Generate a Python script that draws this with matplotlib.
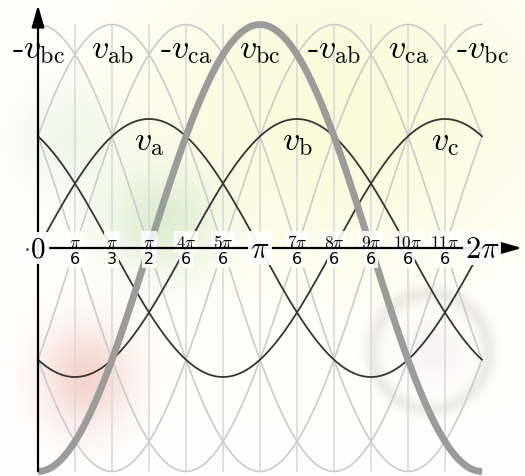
import numpy as np
import matplotlib
matplotlib.use('Agg')
import matplotlib.pyplot as plt

plt.rcParams['mathtext.fontset'] = 'cm'

# 相电压相位 (标幺值, 幅值为1)
PHASES = ['a', 'b', 'c']
PHASE_SHIFT = [0.0, -2 * np.pi / 3, 2 * np.pi / 3]

# 顶部线电压标签, 每隔 pi/3 一个
TOP_LABELS = [r'$\text{-}v_{\mathrm{bc}}$', r'$v_{\mathrm{ab}}$', r'$\text{-}v_{\mathrm{ca}}$',
              r'$v_{\mathrm{bc}}$', r'$\text{-}v_{\mathrm{ab}}$', r'$v_{\mathrm{ca}}$',
              r'$\text{-}v_{\mathrm{bc}}$']

# 横轴刻度 (k*pi/6, 分子/分母)
TICK_K = [1, 2, 3, 4, 5, 7, 8, 9, 10, 11]
TICK_NUM = [r'$\pi$', r'$\pi$', r'$\pi$', r'$4\pi$', r'$5\pi$',
            r'$7\pi$', r'$8\pi$', r'$9\pi$', r'$10\pi$', r'$11\pi$']
TICK_DEN = ['6', '3', '2', '6', '6', '6', '6', '6', '6', '6']

# 画布尺寸与坐标映射
W, H = 525, 477
X0_PX, PX_PER_RAD = 38, 70.66
Y0_PX, PX_PER_UNIT = 249, 129


def background():
    """淡色水印背景"""
    xx, yy = np.meshgrid(np.arange(W), np.arange(H))
    img = np.ones((H, W, 3))

    def tint(mask, rgb, s):
        m = (s * mask)[..., None]
        return img * (1 - m) + np.array(rgb) / 255.0 * m

    def blob(cx, cy, sx, sy):
        return np.exp(-((xx - cx) ** 2 / (2 * sx ** 2) + (yy - cy) ** 2 / (2 * sy ** 2)))

    img = tint(blob(340, 110, 160, 120), (250, 248, 200), 0.7)
    img = tint(blob(160, 220, 38, 35), (210, 232, 200), 0.75)
    img = tint(blob(70, 140, 35, 35), (225, 238, 220), 0.5)
    img = tint(blob(85, 378, 32, 36), (240, 198, 188), 0.75)
    r = np.hypot(xx - 430, yy - 352)
    img = tint(np.exp(-(r - 58) ** 2 / (2 * 6 ** 2)), (210, 210, 200), 0.4)
    img = tint(blob(430, 352, 22, 22), (235, 225, 235), 0.4)
    return img


def main():
    fig = plt.figure(figsize=(W / 100, H / 100), dpi=100)
    ax = fig.add_axes([0, 0, 1, 1])
    xlim = (-X0_PX / PX_PER_RAD, (W - X0_PX) / PX_PER_RAD)
    ylim = (-(H - Y0_PX) / PX_PER_UNIT, Y0_PX / PX_PER_UNIT)
    ax.imshow(background(), extent=(*xlim, *ylim), aspect='auto', zorder=0)
    ax.set_xlim(*xlim)
    ax.set_ylim(*ylim)
    ax.axis('off')

    th = np.linspace(0, 2 * np.pi, 600)
    v = {p: np.sin(th + s) for p, s in zip(PHASES, PHASE_SHIFT)}
    line_v = [v['c'] - v['b'], v['a'] - v['b'], v['a'] - v['c'],
              v['b'] - v['c'], v['b'] - v['a'], v['c'] - v['a']]
    amp = np.sqrt(3)

    # 竖直网格线
    for k in range(1, 12):
        ax.plot([k * np.pi / 6] * 2, [-amp, amp], color='#dadada', lw=1.2, zorder=1)

    # 六条线电压
    for lv in line_v:
        ax.plot(th, lv, color='#cbcbcb', lw=1.2, zorder=2)

    # 相电压
    for p in PHASES:
        ax.plot(th, v[p], color='#353535', lw=1.3, zorder=3)

    # 突出显示 v_bc
    ax.plot(th, v['b'] - v['c'], color='#9b9b9b', lw=5, zorder=4, solid_capstyle='butt')

    # 坐标轴
    arrow = dict(arrowstyle='-|>,head_length=0.7,head_width=0.2', lw=1.6, color='black',
                 mutation_scale=19, shrinkA=0, shrinkB=0)
    ax.annotate('', xy=(0, (Y0_PX - 6) / PX_PER_UNIT), xytext=(0, -1.73),
                arrowprops=arrow, zorder=6)
    ax.annotate('', xy=((522 - X0_PX) / PX_PER_RAD, 0), xytext=(12 / PX_PER_RAD, 0),
                arrowprops=arrow, zorder=6)

    # 分数刻度标签 (横轴即分数线)
    box = dict(facecolor='white', edgecolor='none', alpha=0.85, pad=1.2)
    for k, num, den in zip(TICK_K, TICK_NUM, TICK_DEN):
        x = k * np.pi / 6
        ax.text(x, 0.05, num, ha='center', va='center', fontsize=12.5, bbox=box, zorder=5)
        ax.text(x, -0.085, den, ha='center', va='center', fontsize=11.5, bbox=box, zorder=5)

    big = dict(facecolor='white', edgecolor='none', alpha=0.92, pad=1.5)
    ax.text(0, 0, r'$0$', ha='center', va='center', fontsize=21, bbox=big, zorder=9)
    ax.plot(-11 / PX_PER_RAD, -0.01, '.', color='#555555', ms=2, zorder=10)
    ax.text(np.pi, 0, r'$\pi$', ha='center', va='center', fontsize=22, bbox=big, zorder=9)
    ax.text(2 * np.pi, 0, r'$2\pi$', ha='center', va='center', fontsize=22, bbox=big, zorder=9)

    # 线电压标签
    for i, lab in enumerate(TOP_LABELS):
        ax.text(i * np.pi / 3, (Y0_PX - 50) / PX_PER_UNIT, lab, ha='center', va='center',
                fontsize=24.5, zorder=7)

    # 相电压标签 (峰值下方)
    for p, s in zip(PHASES, PHASE_SHIFT):
        x = (np.pi / 2 - s) % (2 * np.pi)
        ax.text(x, (Y0_PX - 142) / PX_PER_UNIT, r'$v_{\mathrm{%s}}$' % p, ha='center',
                va='center', fontsize=24.5, zorder=7)

    fig.savefig('out.png', dpi=100)
    plt.close(fig)


if __name__ == '__main__':
    main()
